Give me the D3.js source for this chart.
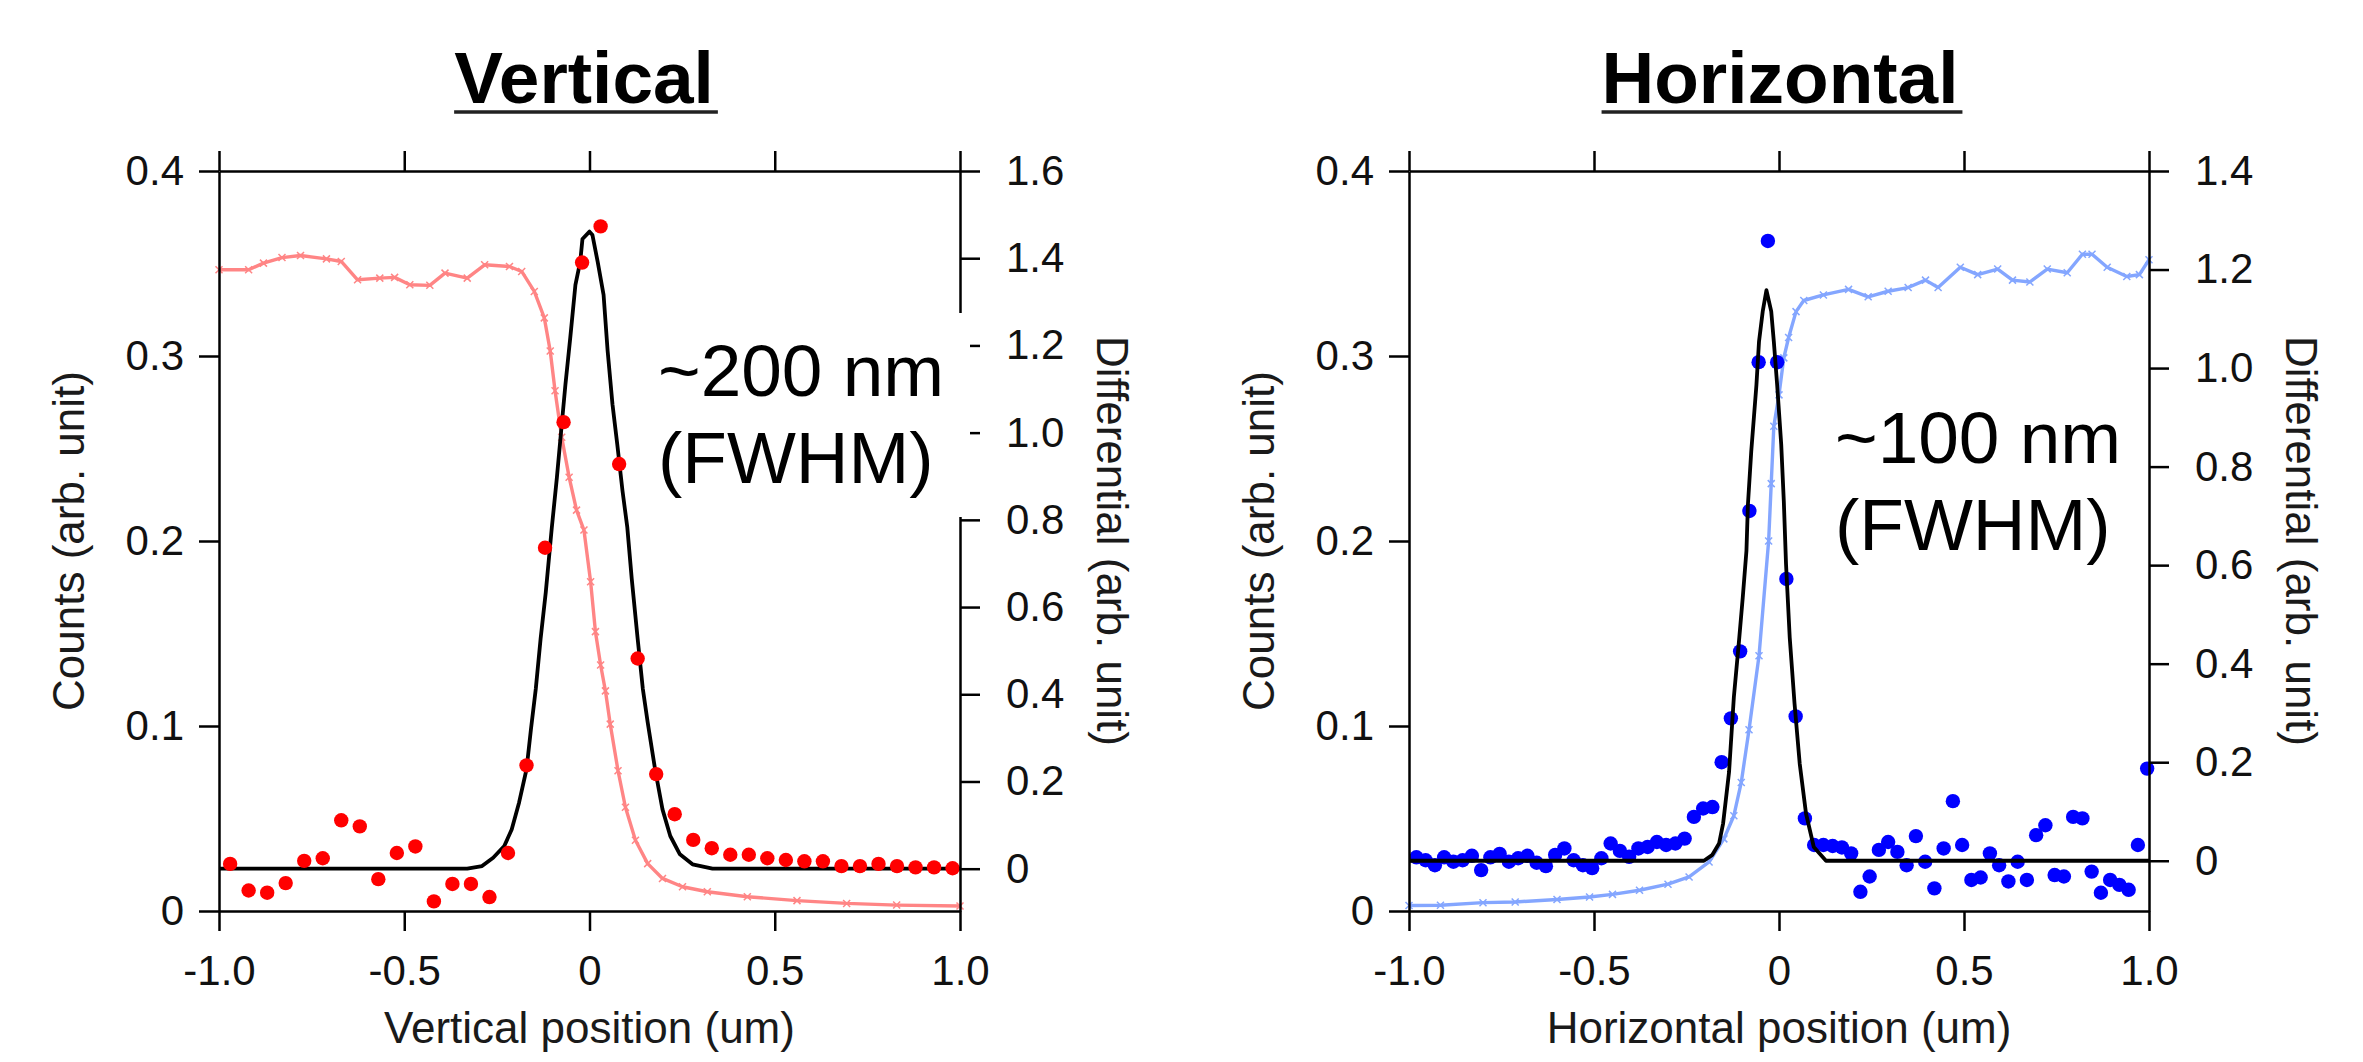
<!DOCTYPE html>
<html><head><meta charset="utf-8">
<script src="https://cdn.jsdelivr.net/npm/d3@7"></script>
<style>
body{margin:0;background:#fff}
svg{display:block}
text{font-family:"Liberation Sans",Arial,Helvetica,sans-serif}
</style>
</head><body>
<svg id="chart" width="2363" height="1062"></svg>
<script>
// ---------- DATA ----------
const panelTitles = ["Vertical", "Horizontal"];
const xAxisTitles = ["Vertical position (um)", "Horizontal position (um)"];
const leftAxisTitle = "Counts (arb. unit)";
const rightAxisTitle = "Differential (arb. unit)";
const annotations = [["~200 nm", "(FWHM)"], ["~100 nm", "(FWHM)"]];

const xTicks = [-1, -0.5, 0, 0.5, 1];
const xTickLabels = ["-1.0", "-0.5", "0", "0.5", "1.0"];
const countTicks = [0, 0.1, 0.2, 0.3, 0.4];
const countTickLabels = ["0", "0.1", "0.2", "0.3", "0.4"];
const vDiffTicks = [0, 0.2, 0.4, 0.6, 0.8, 1.0, 1.2, 1.4, 1.6];
const vDiffTickLabels = ["0", "0.2", "0.4", "0.6", "0.8", "1.0", "1.2", "1.4", "1.6"];
const hDiffTicks = [0, 0.2, 0.4, 0.6, 0.8, 1.0, 1.2, 1.4];
const hDiffTickLabels = ["0", "0.2", "0.4", "0.6", "0.8", "1.0", "1.2", "1.4"];

// Vertical: counts (left axis)
const vCountX = [-1.0, -0.92, -0.88, -0.83, -0.78, -0.71, -0.67, -0.626, -0.566, -0.526, -0.485, -0.431, -0.39, -0.33, -0.283, -0.216, -0.183, -0.149, -0.122, -0.106, -0.093, -0.075, -0.055, -0.035, -0.015, 0.003, 0.016, 0.030, 0.043, 0.056, 0.077, 0.097, 0.124, 0.157, 0.197, 0.251, 0.318, 0.426, 0.56, 0.694, 0.829, 1.0];
const vCountY = [0.3466, 0.3466, 0.3502, 0.3532, 0.3543, 0.3525, 0.3511, 0.3412, 0.3421, 0.3425, 0.3385, 0.3382, 0.3448, 0.3421, 0.3493, 0.3484, 0.3457, 0.3349, 0.3206, 0.3027, 0.2812, 0.2561, 0.2345, 0.2167, 0.2059, 0.178, 0.151, 0.133, 0.119, 0.101, 0.0758, 0.0561, 0.0382, 0.0256, 0.0176, 0.0131, 0.0104, 0.0077, 0.0056, 0.0041, 0.0032, 0.0027];
// Vertical: differential points (right axis)
const vDiffX = [-0.97, -0.92, -0.87, -0.82, -0.77, -0.72, -0.67, -0.62, -0.57, -0.52, -0.47, -0.42, -0.37, -0.32, -0.27, -0.22, -0.17, -0.12, -0.07, -0.02, 0.03, 0.08, 0.13, 0.18, 0.23, 0.28, 0.33, 0.38, 0.43, 0.48, 0.53, 0.58, 0.63, 0.68, 0.73, 0.78, 0.83, 0.88, 0.93, 0.98];
const vDiffY = [0.011, -0.050, -0.055, -0.033, 0.018, 0.024, 0.111, 0.097, -0.024, 0.036, 0.051, -0.075, -0.035, -0.035, -0.065, 0.036, 0.237, 0.736, 1.024, 1.39, 1.473, 0.928, 0.482, 0.217, 0.125, 0.066, 0.047, 0.032, 0.032, 0.024, 0.020, 0.017, 0.017, 0.006, 0.006, 0.011, 0.006, 0.003, 0.003, 0.001];
// Vertical: gaussian fit (right axis)
const vFitX = [-1.0, -0.33, -0.29, -0.26, -0.23, -0.21, -0.19, -0.17, -0.158, -0.145, -0.132, -0.118, -0.102, -0.088, -0.079, -0.065, -0.052, -0.038, -0.025, -0.019, 0.0, 0.008, 0.022, 0.038, 0.049, 0.062, 0.075, 0.089, 0.102, 0.114, 0.130, 0.144, 0.157, 0.177, 0.197, 0.218, 0.244, 0.278, 0.332, 1.0];
const vFitY = [0, 0, 0.006, 0.025, 0.052, 0.09, 0.152, 0.228, 0.32, 0.412, 0.527, 0.634, 0.78, 0.897, 0.981, 1.110, 1.217, 1.339, 1.392, 1.444, 1.461, 1.453, 1.392, 1.316, 1.187, 1.065, 0.973, 0.867, 0.783, 0.665, 0.527, 0.412, 0.336, 0.228, 0.136, 0.075, 0.033, 0.010, 0, 0];

// Horizontal: counts (left axis)
const hCountX = [-1.0, -0.915, -0.80, -0.713, -0.60, -0.512, -0.45, -0.377, -0.30, -0.243, -0.189, -0.149, -0.122, -0.102, -0.081, -0.054, -0.028, -0.021, -0.014, 0.0, 0.013, 0.026, 0.046, 0.067, 0.12, 0.188, 0.241, 0.295, 0.349, 0.396, 0.43, 0.49, 0.537, 0.591, 0.631, 0.678, 0.725, 0.779, 0.82, 0.846, 0.887, 0.94, 0.974, 1.0];
const hCountY = [0.003, 0.0031, 0.0045, 0.0049, 0.0062, 0.0076, 0.009, 0.0112, 0.0145, 0.0184, 0.0265, 0.039, 0.0515, 0.0695, 0.098, 0.138, 0.200, 0.231, 0.262, 0.279, 0.299, 0.310, 0.324, 0.330, 0.333, 0.336, 0.332, 0.335, 0.337, 0.341, 0.337, 0.348, 0.344, 0.347, 0.341, 0.340, 0.347, 0.345, 0.355, 0.355, 0.348, 0.343, 0.344, 0.352];
// Horizontal: differential points (right axis)
const hDiffX = [-0.98, -0.955, -0.93, -0.905, -0.88, -0.855, -0.83, -0.805, -0.78, -0.755, -0.73, -0.705, -0.68, -0.655, -0.63, -0.605, -0.58, -0.555, -0.53, -0.505, -0.48, -0.455, -0.43, -0.405, -0.38, -0.355, -0.33, -0.305, -0.28, -0.255, -0.23, -0.205, -0.18, -0.155, -0.13, -0.105, -0.08, -0.055, -0.03, -0.005, 0.02, 0.045, 0.07, 0.095, 0.12, 0.145, 0.17, 0.195, 0.22, 0.245, 0.27, 0.295, 0.32, 0.345, 0.37, 0.395, 0.42, 0.445, 0.47, 0.495, 0.52, 0.545, 0.57, 0.595, 0.62, 0.645, 0.67, 0.695, 0.72, 0.745, 0.77, 0.795, 0.82, 0.845, 0.87, 0.895, 0.92, 0.945, 0.97, 0.995];
const hDiffY = [0.007, 0.001, -0.009, 0.007, -0.002, 0.001, 0.010, -0.019, 0.007, 0.014, -0.002, 0.005, 0.010, -0.004, -0.011, 0.012, 0.025, 0.001, -0.009, -0.015, 0.005, 0.035, 0.020, 0.008, 0.025, 0.028, 0.038, 0.032, 0.035, 0.045, 0.089, 0.106, 0.109, 0.200, 0.289, 0.425, 0.71, 1.012, 1.258, 1.012, 0.572, 0.293, 0.086, 0.032, 0.032, 0.030, 0.027, 0.015, -0.063, -0.032, 0.022, 0.038, 0.018, -0.009, 0.050, -0.002, -0.056, 0.025, 0.121, 0.032, -0.039, -0.034, 0.015, -0.009, -0.042, -0.002, -0.039, 0.052, 0.072, -0.029, -0.032, 0.089, 0.086, -0.022, -0.065, -0.039, -0.049, -0.059, 0.032, 0.187];
// Horizontal: gaussian fit (right axis)
const hFitX = [-1.0, -0.203, -0.18, -0.162, -0.151, -0.135, -0.122, -0.108, -0.098, -0.088, -0.084, -0.075, -0.061, -0.054, -0.044, -0.034, -0.021, -0.014, -0.005, 0.006, 0.013, 0.019, 0.029, 0.042, 0.056, 0.073, 0.094, 0.127, 1.0];
const hFitY = [0, 0, 0.012, 0.035, 0.076, 0.18, 0.332, 0.447, 0.534, 0.629, 0.723, 0.831, 0.966, 1.054, 1.115, 1.158, 1.115, 1.054, 0.966, 0.845, 0.73, 0.602, 0.453, 0.319, 0.197, 0.096, 0.028, 0, 0];

// ---------- DRAW ----------
const svg = d3.select("#chart");
const T = 171, B = 911, TICK = 20;
const FONT_TICK = 42, FONT_AXIS = 44;

function zip(xs, ys) { return xs.map((x, i) => [x, ys[i]]); }

function drawPanel(o) {
  const x = d3.scaleLinear().domain([-1, 1]).range([o.L, o.R]);
  const yC = d3.scaleLinear().domain([0, 0.4]).range([B, T]);
  const yD = d3.scaleLinear().domain(o.diffDomain).range([B, T]);
  const g = svg.append("g");

  const fmtFrom = (vals, labels) => v => labels[vals.findIndex(t => Math.abs(t - v) < 1e-9)];

  // data layers
  const countPts = zip(o.countX, o.countY);
  const lineC = d3.line().x(d => x(d[0])).y(d => yC(d[1]));
  g.append("path").datum(countPts).attr("d", lineC)
    .attr("fill", "none").attr("stroke", o.lightColor).attr("stroke-width", 3.4)
    .attr("stroke-linejoin", "round");
  const cs = 3.5;
  g.append("g").selectAll("path").data(countPts).join("path")
    .attr("d", d => {
      const px = x(d[0]), py = yC(d[1]);
      return `M${px - cs},${py - cs}L${px + cs},${py + cs}M${px - cs},${py + cs}L${px + cs},${py - cs}`;
    })
    .attr("stroke", o.lightColor).attr("stroke-width", 1.5).attr("fill", "none");

  const fitPts = zip(o.fitX, o.fitY);
  const lineD = d3.line().x(d => x(d[0])).y(d => yD(d[1]));
  const drawFit = () => g.append("path").datum(fitPts).attr("d", lineD)
    .attr("fill", "none").attr("stroke", "#000").attr("stroke-width", 3.8)
    .attr("stroke-linejoin", "round");
  const drawDots = () => g.append("g").selectAll("circle").data(zip(o.diffX, o.diffY)).join("circle")
    .attr("cx", d => x(d[0])).attr("cy", d => yD(d[1])).attr("r", 7.2)
    .attr("fill", o.dotColor);
  if (o.dotsOnTop) { drawFit(); drawDots(); } else { drawDots(); drawFit(); }

  // axes
  const styleAxis = sel => {
    sel.selectAll(".domain").attr("stroke", "#000").attr("stroke-width", 2.5);
    sel.selectAll(".tick line").attr("stroke", "#000").attr("stroke-width", 2.5);
    sel.selectAll(".tick text").attr("font-size", FONT_TICK)
      .attr("font-family", '"Liberation Sans",Arial,sans-serif').attr("fill", "#111");
  };
  g.append("g").attr("transform", `translate(0,${B})`)
    .call(d3.axisBottom(x).tickValues(xTicks).tickFormat(fmtFrom(xTicks, xTickLabels))
      .tickSize(TICK).tickSizeOuter(0).tickPadding(24)).call(styleAxis);
  g.append("g").attr("transform", `translate(0,${T})`)
    .call(d3.axisTop(x).tickValues(xTicks).tickFormat("")
      .tickSize(TICK).tickSizeOuter(0)).call(styleAxis);
  g.append("g").attr("transform", `translate(${o.L},0)`)
    .call(d3.axisLeft(yC).tickValues(countTicks).tickFormat(fmtFrom(countTicks, countTickLabels))
      .tickSize(TICK).tickSizeOuter(0).tickPadding(15)).call(styleAxis);
  g.append("g").attr("transform", `translate(${o.R},0)`)
    .call(d3.axisRight(yD).tickValues(o.diffTicks).tickFormat(fmtFrom(o.diffTicks, o.diffTickLabels))
      .tickSize(TICK).tickSizeOuter(0).tickPadding(26)).call(styleAxis);

  // title
  const title = g.append("text").attr("x", o.titleX).attr("y", 103)
    .attr("text-anchor", "middle").attr("font-size", 73).attr("font-weight", "bold")
    .attr("fill", "#000").text(o.title);
  const w = title.node().getComputedTextLength();
  g.append("line").attr("x1", o.titleX - w / 2).attr("x2", o.titleX + w / 2 + 4)
    .attr("y1", 112).attr("y2", 112).attr("stroke", "#222").attr("stroke-width", 3.5);

  // axis titles
  g.append("text").attr("x", (o.L + o.R) / 2).attr("y", 1043).attr("text-anchor", "middle")
    .attr("font-size", FONT_AXIS).attr("fill", "#1a1a1a").text(o.xTitle);
  g.append("text").attr("transform", `translate(${o.L - 135},${(T + B) / 2}) rotate(-90)`)
    .attr("text-anchor", "middle").attr("font-size", FONT_AXIS).attr("fill", "#1a1a1a").text(leftAxisTitle);
  g.append("text").attr("transform", `translate(${o.R + 137},${(T + B) / 2}) rotate(90)`)
    .attr("text-anchor", "middle").attr("font-size", FONT_AXIS).attr("fill", "#1a1a1a").text(rightAxisTitle);

  // annotation
  if (o.annBox) {
    g.append("rect").attr("x", o.annBox[0]).attr("y", o.annBox[1])
      .attr("width", o.annBox[2]).attr("height", o.annBox[3]).attr("fill", "#fff");
  }
  o.ann.forEach((s, i) => {
    g.append("text").attr("x", o.annX).attr("y", o.annY + i * 87)
      .attr("font-size", 73).attr("fill", "#000").text(s);
  });
}

drawPanel({
  L: 219, R: 960, diffDomain: [-0.097, 1.6], diffTicks: vDiffTicks, diffTickLabels: vDiffTickLabels,
  countX: vCountX, countY: vCountY, diffX: vDiffX, diffY: vDiffY, fitX: vFitX, fitY: vFitY,
  lightColor: "#FF8585", dotColor: "#FF0000", dotsOnTop: true,
  title: panelTitles[0], titleX: 584, xTitle: xAxisTitles[0],
  ann: annotations[0], annX: 658, annY: 396, annBox: [648, 313, 322, 204]
});
drawPanel({
  L: 1409, R: 2149, diffDomain: [-0.102, 1.4], diffTicks: hDiffTicks, diffTickLabels: hDiffTickLabels,
  countX: hCountX, countY: hCountY, diffX: hDiffX, diffY: hDiffY, fitX: hFitX, fitY: hFitY,
  lightColor: "#84A6FF", dotColor: "#0000FF", dotsOnTop: false,
  title: panelTitles[1], titleX: 1780, xTitle: xAxisTitles[1],
  ann: annotations[1], annX: 1835, annY: 463, annBox: null
});
</script>
</body></html>
